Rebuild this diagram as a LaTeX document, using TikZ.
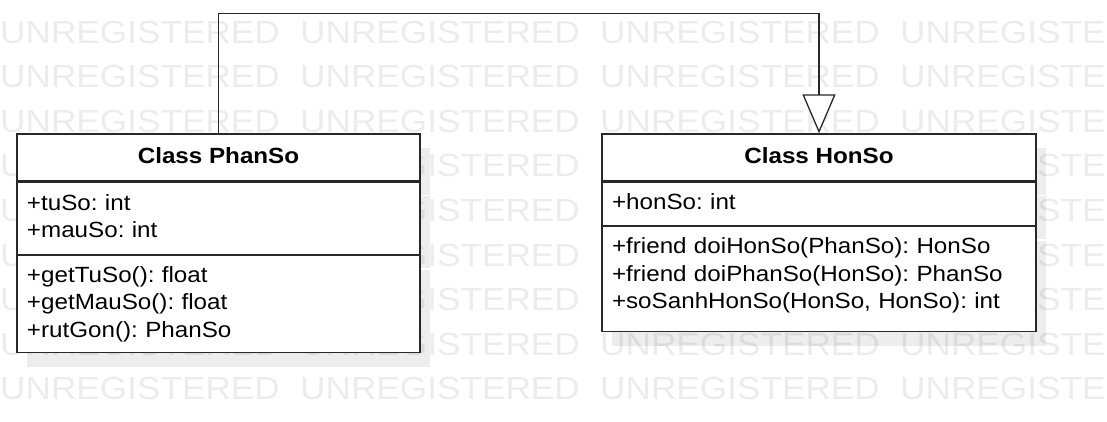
\documentclass[tikz,border=0pt]{standalone}
\usepackage{fontspec}
\setmainfont[FakeStretch=1.1]{Liberation Sans}
\usetikzlibrary{arrows.meta,positioning,shadows}
\definecolor{wmgray}{RGB}{236,236,236}
\definecolor{linegray}{RGB}{40,40,40}
\frenchspacing

\begin{document}
\begin{tikzpicture}[x=1pt,y=-1pt,
    class box/.style={rectangle,draw=linegray,fill=white,line width=1.3pt,
      drop shadow={shadow xshift=10pt,shadow yshift=-14pt,fill=black,opacity=0.07}},
    class head/.style={class box,inner sep=0pt,minimum height=47pt,
      font=\fontsize{22}{27.5}\selectfont\bfseries},
    class body/.style={class box,inner xsep=10pt,inner ysep=0pt,align=left,
      font=\fontsize{22}{27.5}\selectfont},
    watermark/.style={anchor=base west,inner sep=0pt,text=wmgray,
      font=\fontsize{32}{32}\selectfont}]
  \useasboundingbox (0,0) rectangle (1107,421);
  \clip (0,0) rectangle (1107,421);
  % background text
  \foreach \row in {0,...,8}
    \foreach \col in {0,300,600,900}
      \node[watermark] (wm-\row-\col) at (\col,43+44.6*\row) {UNREGISTERED};
  % class PhanSo
  \node[class head,minimum width=403pt] (phanso) at (218.5,157.5) {\strut Class PhanSo};
  \node[class body,text width=383pt,minimum height=72pt,below=0pt of phanso] (phansoAttr)
    {\strut+tuSo: int\\\strut+mauSo: int};
  \node[class body,text width=383pt,minimum height=97pt,below=0pt of phansoAttr] (phansoOps)
    {\strut+getTuSo(): float\\\strut+getMauSo(): float\\\strut+rutGon(): PhanSo};
  % class HonSo
  \node[class head,minimum width=434pt] (honso) at (819,157.5) {\strut Class HonSo};
  \node[class body,text width=414pt,minimum height=43pt,below=0pt of honso] (honsoAttr)
    {\strut+honSo: int};
  \node[class body,text width=414pt,minimum height=105pt,below=0pt of honsoAttr] (honsoOps)
    {\strut+friend doiHonSo(PhanSo): HonSo\\\strut+friend doiPhanSo(HonSo): PhanSo\\
     \strut+soSanhHonSo(HonSo, HonSo): int\rule[-15pt]{0pt}{15pt}};
  % generalization
  \draw[linegray,line width=1.3pt,-{Triangle[open,length=39pt,width=33pt,fill=white]}]
    (phanso.north) -- ++(0,-120) -| (honso.north);
\end{tikzpicture}
\end{document}
